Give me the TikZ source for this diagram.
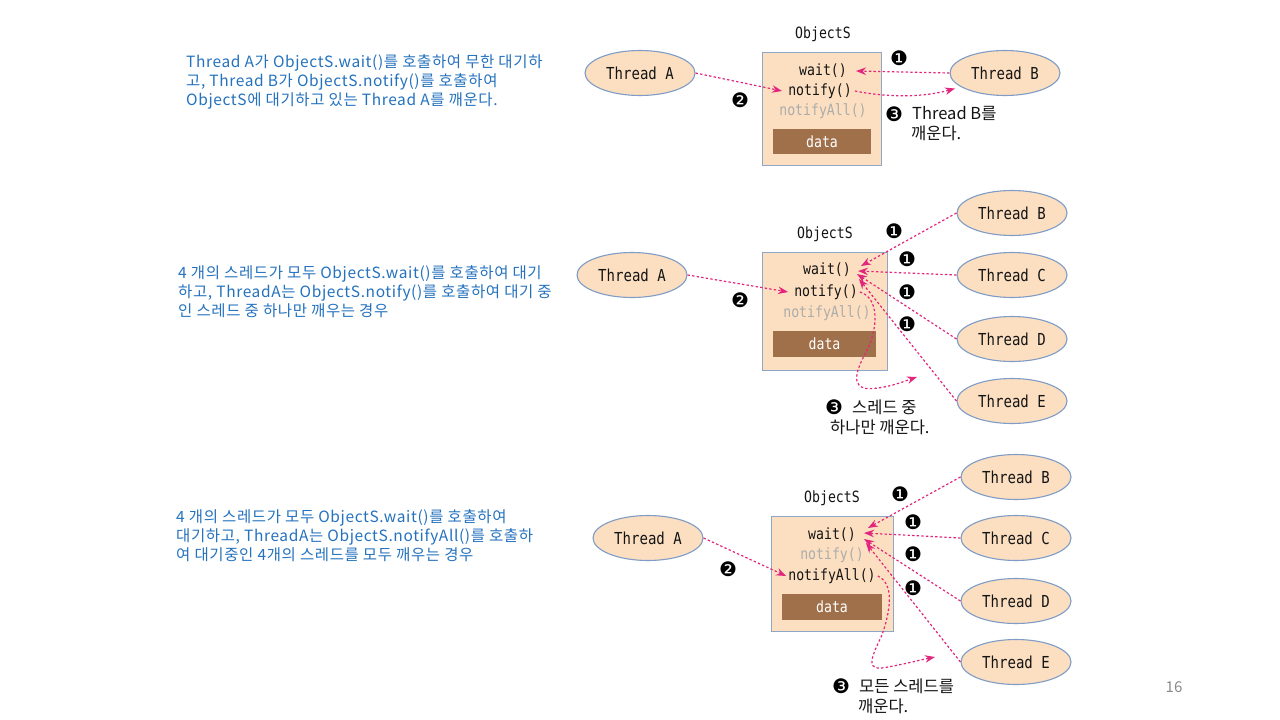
\documentclass[tikz,border=0pt]{standalone}
\usepackage{fontspec}
\setmainfont{Noto Sans CJK KR}
\newfontfamily\codefont[FakeStretch=0.85]{DejaVu Sans Mono}
\newfontfamily\dingfont{DejaVu Sans}
\newfontfamily\krfont{Noto Sans CJK KR}
\newfontfamily\descfont[LetterSpace=4]{Noto Sans CJK KR}
\usetikzlibrary{shapes.geometric,arrows.meta,calc}
\definecolor{peach}{HTML}{FCDFC1}
\definecolor{edgeblue}{HTML}{7E9CC6}
\definecolor{boxedge}{HTML}{8EA7C6}
\definecolor{databrown}{HTML}{A0704A}
\definecolor{mag}{HTML}{E2267E}
\definecolor{txtblue}{HTML}{2472BE}
\definecolor{lightgray}{HTML}{ACACAC}
\definecolor{pagegray}{HTML}{8A8A8A}
\definecolor{codeink}{HTML}{141414}
\tikzset{
  thread/.style={ellipse,draw=edgeblue,fill=peach,line width=1.1pt,minimum width=110pt,minimum height=45pt,inner sep=0pt,text=codeink,font=\codefont\fontsize{16.5}{16.5}\selectfont},
  objbox/.style={rectangle,draw=boxedge,fill=peach,line width=1pt,inner sep=0pt},
  databox/.style={rectangle,fill=databrown,text=white,inner sep=0pt,font=\codefont\fontsize{15.5}{15.5}\selectfont},
  code/.style={inner sep=1pt,text=codeink,font=\codefont\fontsize{15.5}{15.5}\selectfont},
  codegray/.style={code,text=lightgray},
  num/.style={inner sep=0pt,font=\dingfont\fontsize{20}{20}\selectfont},
  kr/.style={inner sep=0pt,anchor=west,text=codeink,font=\krfont\fontsize{16.5}{16.5}\selectfont},
  desc/.style={inner sep=0pt,anchor=north west,align=left,text=txtblue,font=\descfont\fontsize{15.5}{19.2}\selectfont},
  arr/.style={draw=mag,line width=1.2pt,dash pattern=on 2.4pt off 2.2pt,-{Stealth[length=10pt,width=7.5pt,fill=mag]}},
}
\begin{document}
\begin{tikzpicture}[x=1pt,y=-1pt]
\useasboundingbox (0,0) rectangle (1280,720);
\fill[white] (0,0) rectangle (1280,720);

% ---------- descriptions ----------
\node[desc] (d1) at (186,54) {Thread A가 ObjectS.wait()를 호출하여 무한 대기하\\고, Thread B가 ObjectS.notify()를 호출하여\\ObjectS에 대기하고 있는 Thread A를 깨운다.};
\node[desc] (d2) at (178,265) {4 개의 스레드가 모두 ObjectS.wait()를 호출하여 대기\\하고, ThreadA는 ObjectS.notify()를 호출하여 대기 중\\인 스레드 중 하나만 깨우는 경우};
\node[desc] (d3) at (176,509) {4 개의 스레드가 모두 ObjectS.wait()를 호출하여\\대기하고, ThreadA는 ObjectS.notifyAll()를 호출하\\여 대기중인 4개의 스레드를 모두 깨우는 경우};

% ---------- diagram 1 ----------
\node[code] (os1) at (823,34) {ObjectS};
\node[objbox,minimum width=119pt,minimum height=113pt] (b1) at (821.5,108.5) {};
\node[code] (w1) at (823,71) {wait()};
\node[code] (n1) at (820,91) {notify()};
\node[codegray] (na1) at (823,111) {notifyAll()};
\node[databox,minimum width=98pt,minimum height=25pt] (dt1) at (822,141.5) {data};
\node[thread] (tA1) at (640,73) {Thread A};
\node[thread] (tB1) at (1005,73) {Thread B};
\coordinate (e1) at (955,88.5);
\draw[arr] (tA1.east) -- ([xshift=-5pt]n1.west);
\draw[arr] (tB1.west) -- ([xshift=8pt]w1.east);
\draw[arr] ([xshift=2pt]n1.east) .. controls (890,98) and (925,97) .. (e1);
\node[num] (c11) at (899,58) {❶};
\node[num] (c12) at (740,100) {❷};
\node[num] (c13) at (894,114) {❸};
\node[kr] (l11) at (912,113) {Thread B를};
\node[kr] (l12) at (911,133) {깨운다.};

% ---------- diagram 2 ----------
\node[code] (os2) at (825,234) {ObjectS};
\node[objbox,minimum width=125pt,minimum height=118pt] (b2) at (824.5,311) {};
\node[code] (w2) at (827,270) {wait()};
\node[code] (n2) at (826,292) {notify()};
\node[codegray] (na2) at (827,313) {notifyAll()};
\node[databox,minimum width=103pt,minimum height=26pt] (dt2) at (824.5,344) {data};
\node[thread] (tA2) at (632,275) {Thread A};
\node[thread] (tB2) at (1012,213) {Thread B};
\node[thread] (tC2) at (1012,275) {Thread C};
\node[thread] (tD2) at (1012,339) {Thread D};
\node[thread] (tE2) at (1012,401) {Thread E};
\coordinate (g2) at ([xshift=6pt]w2.east);
\coordinate (e2) at (917,377);
\draw[arr] (tA2.east) -- ([xshift=-5pt]n2.west);
\draw[arr] (tB2.west) -- ($(g2)+(3,-4)$);
\draw[arr] (tC2.west) -- ($(g2)+(0,1)$);
\draw[arr] (tD2.west) -- ($(g2)+(-1,4)$);
\draw[arr] (tE2.west) -- ($(g2)+(1,9)$);
\draw[arr] ([xshift=1pt]n2.east) .. controls (880,298) and (878,330) .. (866,352)
   .. controls (852,378) and (852,392) .. (878,388) .. controls (893,386) and (905,381) .. (e2);
\node[num] (c21) at (894,231) {❶};
\node[num] (c22) at (907,259) {❶};
\node[num] (c23) at (907,292) {❶};
\node[num] (c24) at (907,324) {❶};
\node[num] (c25) at (740,300) {❷};
\node[num] (c26) at (834,407) {❸};
\node[kr] (l21) at (852,407) {스레드 중};
\node[kr] (l22) at (830,427) {하나만 깨운다.};

% ---------- diagram 3 ----------
\node[code] (os3) at (832,498) {ObjectS};
\node[objbox,minimum width=122pt,minimum height=115pt] (b3) at (832,573.5) {};
\node[code] (w3) at (832,535) {wait()};
\node[codegray] (n3) at (832,555) {notify()};
\node[code] (na3) at (832,576) {notifyAll()};
\node[databox,minimum width=100pt,minimum height=26pt] (dt3) at (832,607) {data};
\node[thread] (tA3) at (648,538) {Thread A};
\node[thread] (tB3) at (1016,477) {Thread B};
\node[thread] (tC3) at (1016,538) {Thread C};
\node[thread] (tD3) at (1016,601) {Thread D};
\node[thread] (tE3) at (1016,662) {Thread E};
\coordinate (g3) at ([xshift=7pt]w3.east);
\coordinate (e3) at (935,657);
\draw[arr] (tA3.east) -- ([xshift=-1pt]na3.west);
\draw[arr] (tB3.west) -- ($(g3)+(4,-7)$);
\draw[arr] (tC3.west) -- ($(g3)+(0,-2)$);
\draw[arr] (tD3.west) -- ($(g3)+(0,4)$);
\draw[arr] (tE3.west) -- ($(g3)+(2,8)$);
\draw[arr] ([xshift=1pt]na3.east) .. controls (895,584) and (890,612) .. (882,635)
   .. controls (870,660) and (865,672) .. (888,667) .. controls (905,664) and (920,660) .. (e3);
\node[num] (c31) at (900,494) {❶};
\node[num] (c32) at (913,522) {❶};
\node[num] (c33) at (913,554) {❶};
\node[num] (c34) at (913,588) {❶};
\node[num] (c35) at (728,569) {❷};
\node[num] (c36) at (841,686) {❸};
\node[kr] (l31) at (859,686) {모든 스레드를};
\node[kr] (l32) at (858,706) {깨운다.};

% page number
\node[inner sep=0pt,text=pagegray,font=\fontsize{15}{15}\selectfont] (pg) at (1174,687) {16};
\end{tikzpicture}
\end{document}
